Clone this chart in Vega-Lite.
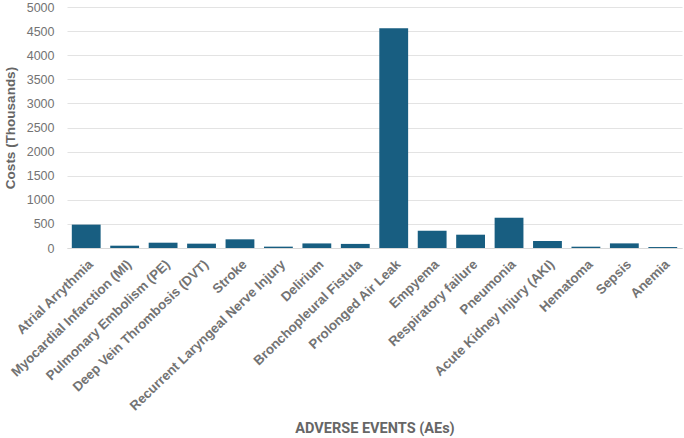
{
  "$schema": "https://vega.github.io/schema/vega-lite/v6.json",
  "width": 615,
  "height": 241,
  "autosize": "none",
  "padding": {"left": 67, "top": 7, "right": 2, "bottom": 190},
  "background": "white",
  "data": {
    "values": [
      {"event": "Atrial Arrythmia", "cost": 485},
      {"event": "Myocardial Infarction (MI)", "cost": 48},
      {"event": "Pulmonary Embolism (PE)", "cost": 110},
      {"event": "Deep Vein Thrombosis (DVT)", "cost": 90},
      {"event": "Stroke", "cost": 180},
      {"event": "Recurrent Laryngeal Nerve Injury", "cost": 28},
      {"event": "Delirium", "cost": 95},
      {"event": "Bronchopleural Fistula", "cost": 85},
      {"event": "Prolonged Air Leak", "cost": 4560},
      {"event": "Empyema", "cost": 358},
      {"event": "Respiratory failure", "cost": 276},
      {"event": "Pneumonia", "cost": 628},
      {"event": "Acute Kidney Injury (AKI)", "cost": 145},
      {"event": "Hematoma", "cost": 27},
      {"event": "Sepsis", "cost": 96},
      {"event": "Anemia", "cost": 20}
    ]
  },
  "mark": {"type": "bar", "color": "#185e81"},
  "encoding": {
    "x": {
      "field": "event",
      "type": "nominal",
      "sort": null,
      "scale": {"paddingInner": 0.25, "paddingOuter": 0.125},
      "axis": {
        "title": "ADVERSE EVENTS (AEs)",
        "titleFont": "Roboto",
        "titleFontSize": 14.5,
        "titleFontWeight": "bold",
        "titleColor": "#666666",
        "titleY": 180,
        "titleBaseline": "middle",
        "labelAngle": -44,
        "labelFont": "Liberation Sans",
        "labelFontSize": 13.3,
        "labelFontWeight": "bold",
        "labelColor": "#737373",
        "labelPadding": 9,
        "labelOverlap": false,
        "labelLimit": 0,
        "domain": true,
        "domainColor": "#d9d9d9",
        "ticks": false
      }
    },
    "y": {
      "field": "cost",
      "type": "quantitative",
      "scale": {"domain": [0, 5000]},
      "axis": {
        "title": "Costs (Thousands)",
        "titleFont": "Liberation Sans",
        "titleFontSize": 13.5,
        "titleFontWeight": "bold",
        "titleColor": "#666666",
        "titlePadding": 9,
        "values": [0, 500, 1000, 1500, 2000, 2500, 3000, 3500, 4000, 4500, 5000],
        "format": "d",
        "labelFont": "Liberation Sans",
        "labelFontSize": 12.5,
        "labelColor": "#737373",
        "labelPadding": 13,
        "domain": false,
        "ticks": false,
        "grid": true,
        "gridColor": "#e3e3e3",
        "gridWidth": 1
      }
    }
  },
  "config": {"view": {"stroke": null}}
}
